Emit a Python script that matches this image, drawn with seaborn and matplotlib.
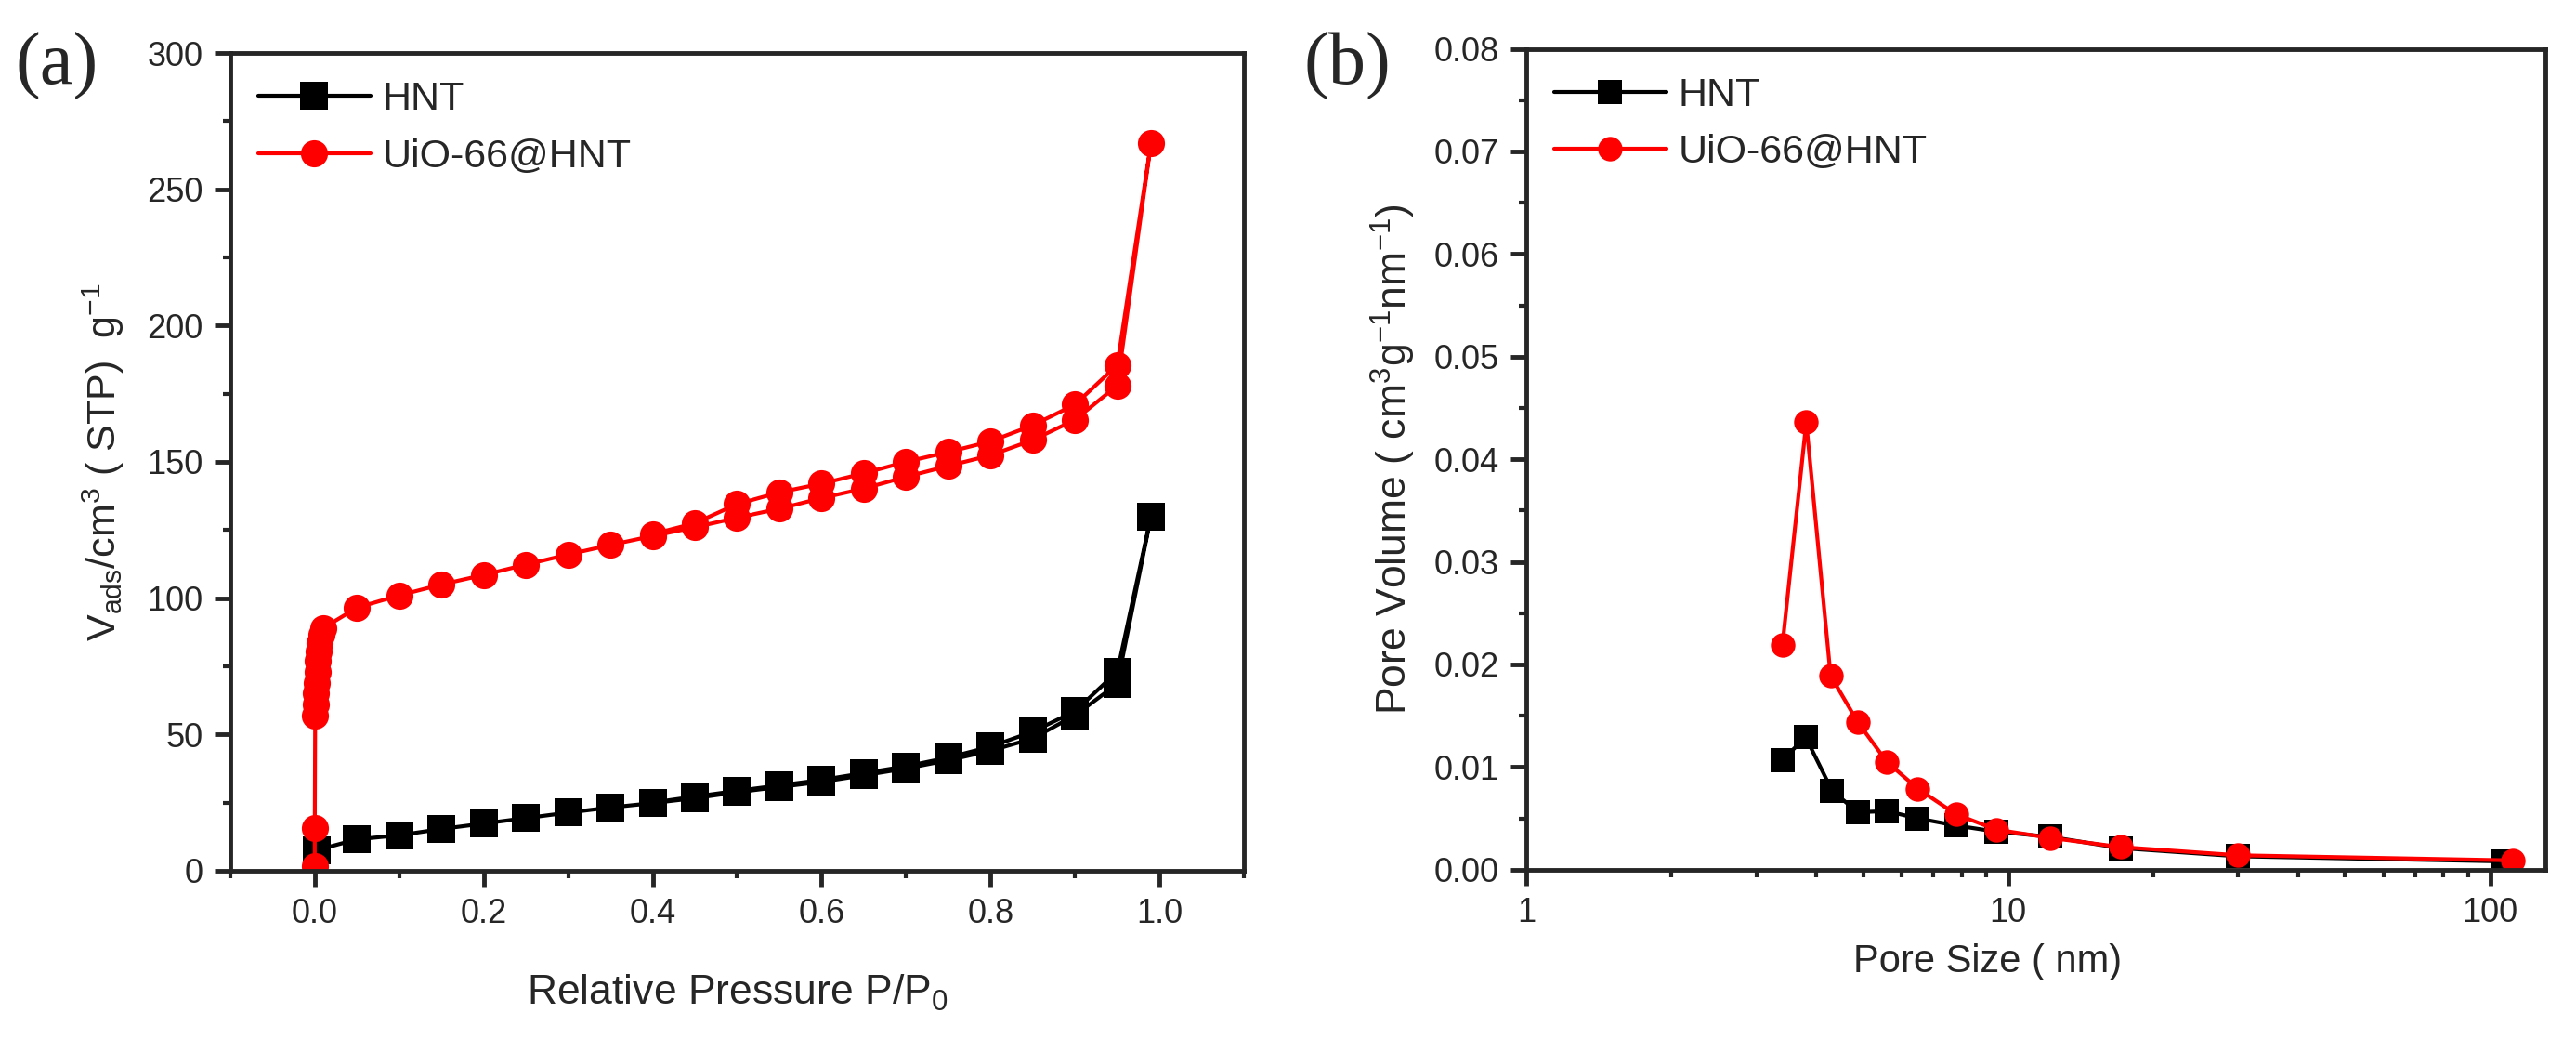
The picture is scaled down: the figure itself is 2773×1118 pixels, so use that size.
import numpy as np
import pandas as pd
import matplotlib
matplotlib.use("Agg")
import matplotlib.pyplot as plt
import seaborn as sns
from matplotlib.ticker import MultipleLocator, LogLocator, FixedLocator, FixedFormatter, NullFormatter

# (a) N2 isotherms: adsorption branch then desorption branch
hnt_p = [0.002, 0.05, 0.10, 0.15, 0.20, 0.25, 0.30, 0.35, 0.40, 0.45, 0.50,
         0.55, 0.60, 0.65, 0.70, 0.75, 0.80, 0.85, 0.90, 0.95, 0.99,
         0.95, 0.90, 0.85, 0.80, 0.75, 0.70, 0.65, 0.60, 0.55, 0.50, 0.45, 0.40]
hnt_v = [7.5, 11.5, 13.0, 15.3, 17.3, 19.3, 21.3, 23.2, 24.8, 26.6, 28.8,
         30.7, 32.6, 35.0, 37.5, 40.5, 44.0, 48.5, 57.0, 68.5, 130.0,
         73.0, 58.5, 51.0, 45.5, 41.5, 38.3, 35.8, 33.3, 31.3, 29.3, 27.2, 25.0]

uio_p = [0.0, 0.0, 0.0005, 0.001, 0.0015, 0.002, 0.003, 0.004, 0.005, 0.006, 0.008, 0.01,
         0.05, 0.10, 0.15, 0.20, 0.25, 0.30, 0.35, 0.40, 0.45, 0.50, 0.55, 0.60,
         0.65, 0.70, 0.75, 0.80, 0.85, 0.90, 0.95, 0.99,
         0.95, 0.90, 0.85, 0.80, 0.75, 0.70, 0.65, 0.60, 0.55, 0.50, 0.45, 0.40]
uio_v = [1.5, 15.5, 57.0, 61.0, 65.0, 69.0, 73.0, 77.0, 80.5, 83.5, 86.5, 89.0,
         96.5, 101.0, 105.0, 108.5, 112.3, 116.0, 119.5, 122.8, 126.0, 129.5, 132.8, 136.7,
         140.2, 144.5, 148.5, 152.4, 158.0, 165.4, 178.0, 267.0,
         185.5, 171.0, 163.4, 157.5, 153.6, 150.0, 145.8, 142.0, 138.8, 134.5, 127.5, 123.5]

# (b) pore size distribution
hnt_d = [3.40, 3.80, 4.31, 4.87, 5.60, 6.49, 7.79, 9.45, 12.2, 17.1, 30.0, 106.0]
hnt_pv = [0.0107, 0.0129, 0.0077, 0.0056, 0.0057, 0.0050, 0.0043, 0.0037, 0.0032, 0.0021, 0.0013, 0.0008]
uio_d = [3.40, 3.81, 4.28, 4.87, 5.60, 6.49, 7.79, 9.45, 12.2, 17.1, 30.0, 111.5]
uio_pv = [0.0219, 0.0436, 0.0189, 0.0144, 0.0105, 0.0079, 0.0054, 0.0039, 0.0031, 0.0022, 0.0014, 0.0009]

labels = ["HNT", "UiO-66@HNT"]
colors = ["#000000", "#ff0000"]

sns.set_style("ticks")
plt.rcParams["font.family"] = ["Liberation Sans", "DejaVu Sans"]
plt.rcParams["mathtext.fontset"] = "custom"
plt.rcParams["mathtext.rm"] = "Liberation Sans"
plt.rcParams["mathtext.it"] = "Liberation Sans:italic"

fig = plt.figure(figsize=(27.73, 11.18), dpi=100)
ax1 = fig.add_axes([0.0894, 0.162, 0.3935, 0.787])
ax2 = fig.add_axes([0.5925, 0.163, 0.3955, 0.790])

iso = pd.concat([
    pd.DataFrame({"p": hnt_p, "v": hnt_v, "s": labels[0]}),
    pd.DataFrame({"p": uio_p, "v": uio_v, "s": labels[1]}),
])
psd = pd.concat([
    pd.DataFrame({"d": hnt_d, "pv": hnt_pv, "s": labels[0]}),
    pd.DataFrame({"d": uio_d, "pv": uio_pv, "s": labels[1]}),
])

for lab, col, mk in zip(labels, colors, ["s", "o"]):
    sub = iso[iso["s"] == lab]
    sns.lineplot(data=sub, x="p", y="v", ax=ax1, sort=False, estimator=None,
                 color=col, marker=mk, markersize=21, markeredgewidth=0,
                 linewidth=3, label=lab)
    sub = psd[psd["s"] == lab]
    sns.lineplot(data=sub, x="d", y="pv", ax=ax2, sort=False, estimator=None,
                 color=col, marker=mk, markersize=19, markeredgewidth=0,
                 linewidth=3, label=lab)

tick_fs = 26
for ax in (ax1, ax2):
    for sp in ax.spines.values():
        sp.set_linewidth(3.5)
        sp.set_visible(True)
    ax.tick_params(which="major", direction="out", length=12, width=3.5,
                   labelsize=tick_fs, pad=9, top=False, right=False)
    ax.tick_params(which="minor", direction="out", length=6, width=3,
                   top=False, right=False)
    ax.legend(loc="upper left", frameon=False, fontsize=31, handlelength=2.8,
              handletextpad=0.3, labelspacing=0.5, borderaxespad=0.3,
              bbox_to_anchor=(0.0, 1.0))

# panel (a)
ax1.set_xlim(-0.1, 1.1)
ax1.set_ylim(0, 300)
ax1.xaxis.set_major_locator(FixedLocator([0.0, 0.2, 0.4, 0.6, 0.8, 1.0]))
ax1.xaxis.set_major_formatter(FixedFormatter(["0.0", "0.2", "0.4", "0.6", "0.8", "1.0"]))
ax1.xaxis.set_minor_locator(MultipleLocator(0.1))
ax1.yaxis.set_major_locator(MultipleLocator(50))
ax1.yaxis.set_minor_locator(MultipleLocator(25))
ax1.set_xlabel(r"Relative Pressure P/P$_0$", fontsize=32)
ax1.set_ylabel(r"V$_{\rm ads}$/cm$^3$ ( STP)  g$^{-1}$", fontsize=31)
ax1.xaxis.set_label_coords(0.5, -0.125)
ax1.yaxis.set_label_coords(-0.103, 0.5)

# panel (b)
ax2.set_xscale("log")
ax2.set_xlim(1, 130)
ax2.set_ylim(0, 0.08)
ax2.xaxis.set_major_locator(FixedLocator([1, 10, 100]))
ax2.xaxis.set_major_formatter(FixedFormatter(["1", "10", "100"]))
ax2.xaxis.set_minor_locator(LogLocator(base=10, subs=np.arange(2, 10)))
ax2.xaxis.set_minor_formatter(NullFormatter())
ax2.yaxis.set_major_locator(MultipleLocator(0.01))
ax2.yaxis.set_minor_locator(MultipleLocator(0.005))
ax2.yaxis.set_major_formatter(matplotlib.ticker.FormatStrFormatter("%.2f"))
ax2.set_xlabel("Pore Size ( nm)", fontsize=30)
ax2.set_ylabel(r"Pore Volume ( cm$^3$g$^{-1}$nm$^{-1}$)", fontsize=32)
ax2.xaxis.set_label_coords(0.453, -0.09)
ax2.yaxis.set_label_coords(-0.107, 0.5)

fig.text(0.006, 0.936, "(a)", ha="left", va="center", fontsize=58,
         family=["Liberation Serif", "DejaVu Serif"])
fig.text(0.506, 0.936, "(b)", ha="left", va="center", fontsize=58,
         family=["Liberation Serif", "DejaVu Serif"])

fig.savefig("out.png", dpi=100)
